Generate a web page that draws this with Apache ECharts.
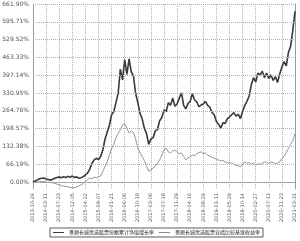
<!DOCTYPE html>
<html><head><meta charset="utf-8">
<script src="https://cdn.jsdelivr.net/npm/echarts@6/dist/echarts.min.js"></script>
<style>html,body{margin:0;padding:0;background:#fff}#c{width:300px;height:241px}</style>
</head><body><div id="c"></div>
<script>
const tickLabels = ['2013-10-24','2014-03-11','2014-07-23','2014-12-05','2015-04-22','2015-09-07','2016-01-21','2016-06-06','2016-10-19','2017-03-06','2017-07-18','2017-11-29','2018-04-16','2018-08-29','2019-01-11','2019-05-29','2019-10-14','2020-02-27','2020-07-13','2020-11-23','2021-03-31'];
const yTicks = [0,66.19,132.38,198.57,264.76,330.95,397.14,463.33,529.52,595.71,661.90];
const seriesNames = ['景顺长城优选股票份额累计净值增长率','景顺长城优选股票业绩比较基准收益率'];
const fundValues = [0,4,8,12,14,15,11,9,7,10,14,17,19,16,20,17,21,18,22,17,19,14,16,20,26,33,48,70,82,88,84,95,120,160,186,212,250,262,295,330,420,380,455,400,458,410,395,330,295,256,235,200,180,140,160,165,190,195,228,240,268,262,295,285,312,282,290,312,332,285,272,292,300,328,305,298,280,286,290,300,285,278,258,250,225,215,200,220,218,235,242,250,258,245,252,236,262,285,300,320,362,388,372,405,398,412,388,405,385,398,378,392,370,402,428,448,432,482,505,565,635];
const benchValues = [0,2,4,3,1,2,0,-1,-2,-3,-5,-8,-10,-14,-15,-16,-18,-20,-21,-22,-18,-15,-11,-6,2,8,15,12,18,16,20,22,40,58,75,100,125,140,165,180,195,212,218,200,182,190,185,160,125,110,95,80,60,40,45,52,60,70,82,100,120,126,112,108,115,119,112,105,108,95,82,90,95,100,98,105,110,112,105,108,100,96,92,88,85,82,78,80,75,72,70,72,66,62,60,56,66,75,70,72,66,70,63,68,66,70,75,72,70,74,72,68,71,75,88,95,110,125,140,155,180];
const step = Math.round((fundValues.length - 1) / (tickLabels.length - 1));
const categories = fundValues.map((v, i) => (i % step === 0 && tickLabels[i / step] ? tickLabels[i / step] : ''));

const gridStyle = {color: '#b0b0b0', type: 'dotted', width: 1};
const frameStyle = {color: '#9a9a9a', width: 1};

const chart = echarts.init(document.getElementById('c'), null, {renderer: 'canvas'});
chart.setOption({
  animation: false,
  grid: {left: 33, right: 5, top: 4, bottom: 52, show: false},
  legend: {
    bottom: 4, left: 50, itemWidth: 11, itemHeight: 1, itemGap: 5,
    padding: [2, 3], borderColor: '#333', borderWidth: 0.8,
    icon: 'rect',
    textStyle: {fontSize: 5, color: '#222', fontFamily: 'Noto Sans CJK SC'},
    data: seriesNames
  },
  xAxis: [{
    type: 'category', data: categories, boundaryGap: false, position: 'bottom',
    axisLine: {show: true, lineStyle: frameStyle}, axisTick: {show: false},
    axisLabel: {interval: step - 1, rotate: 90, fontSize: 5, color: '#555', margin: 4, fontFamily: 'DejaVu Sans'},
    splitLine: {show: true, interval: step - 1, lineStyle: gridStyle}
  }, {
    type: 'category', data: categories, boundaryGap: false, position: 'top',
    axisLine: {show: true, lineStyle: frameStyle}, axisTick: {show: false},
    axisLabel: {show: false}, splitLine: {show: false}
  }],
  yAxis: [{
    type: 'value', min: -26, max: 661.90, position: 'left',
    axisLine: {show: true, lineStyle: frameStyle},
    axisTick: {show: false}, axisLabel: {show: false}, splitLine: {show: false}
  }, {
    type: 'value', min: -26, max: 661.90, position: 'right',
    axisLine: {show: true, lineStyle: frameStyle}, axisTick: {show: false},
    axisLabel: {show: false}, splitLine: {show: false}
  }],
  series: [
    {name: seriesNames[0], type: 'line', data: fundValues, symbol: 'none', lineStyle: {color: '#3a3a3a', width: 1.6}, itemStyle: {color: '#3a3a3a'}, z: 3,
     markLine: {silent: true, symbol: ['none', 'none'], lineStyle: gridStyle,
       label: {show: true, position: 'start', distance: 4, formatter: p => p.value.toFixed(2) + '%', fontSize: 6, color: '#555', fontFamily: 'DejaVu Sans'},
       data: yTicks.map(v => ({yAxis: v}))}},
    {name: seriesNames[1], type: 'line', data: benchValues, symbol: 'none', lineStyle: {color: '#8a8a8a', width: 0.9}, itemStyle: {color: '#8a8a8a'}, z: 2}
  ]
});
</script></body></html>
